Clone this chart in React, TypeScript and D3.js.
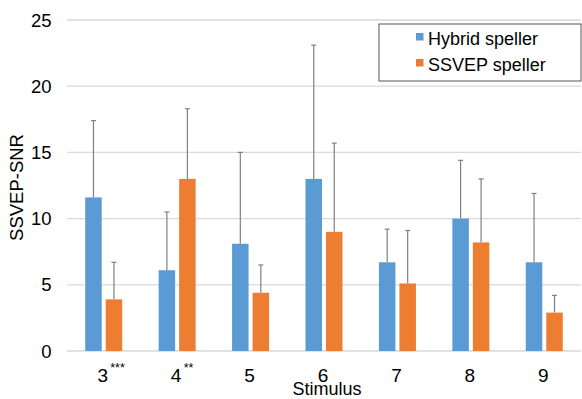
import React from "react";
import * as d3 from "d3";

const categories = ["3", "4", "5", "6", "7", "8", "9"];
const marks = ["***", "**", "", "", "", "", ""];
const hybridMean = [11.6, 6.1, 8.1, 13.0, 6.7, 10.0, 6.7];
const hybridErr = [5.8, 4.4, 6.9, 10.1, 2.5, 4.4, 5.2];
const ssvepMean = [3.9, 13.0, 4.4, 9.0, 5.1, 8.2, 2.9];
const ssvepErr = [2.8, 5.3, 2.1, 6.7, 4.0, 4.8, 1.3];
const yTicks = [0, 5, 10, 15, 20, 25];
const seriesNames = ["Hybrid speller", "SSVEP speller"];
const colors = ["#5B9BD5", "#ED7D31"];

const W = 582, H = 399;
const left = 67, right = 581, top = 20, bottom = 351;
const FONT = "'Liberation Sans', Arial, sans-serif";

export default function App() {
  const x = d3.scaleBand<string>().domain(categories).range([left, right]).padding(0);
  const y = d3.scaleLinear().domain([0, 25]).range([bottom, top]);
  const bw = x.bandwidth();
  const barW = 16.5;
  const gap = 4;
  const series = [
    { mean: hybridMean, err: hybridErr },
    { mean: ssvepMean, err: ssvepErr },
  ];
  return (
    <svg width={W} height={H} style={{ position: "absolute", left: 0, top: 0, background: "#fff" }} fontFamily={FONT}>
      {yTicks.map((t) => (
        <g key={t}>
          <line x1={left} x2={right} y1={y(t)} y2={y(t)} stroke="#d9d9d9" strokeWidth={1.3} />
          <text x={51.5} y={y(t)} dy="0.36em" textAnchor="end" fontSize={18.5} fill="#000">{t}</text>
        </g>
      ))}
      {series.map((s, si) =>
        categories.map((c, i) => {
          const cx = (x(c) as number) + bw / 2;
          const bx = si === 0 ? cx - gap / 2 - barW : cx + gap / 2;
          const mid = bx + barW / 2;
          const yTop = y(s.mean[i]);
          const yErr = y(s.mean[i] + s.err[i]);
          return (
            <g key={`${si}-${c}`}>
              <line x1={mid} x2={mid} y1={yTop} y2={yErr} stroke="#808080" strokeWidth={1.2} />
              <line x1={mid - 2.5} x2={mid + 2.5} y1={yErr} y2={yErr} stroke="#808080" strokeWidth={1.2} />
              <rect x={bx} y={yTop} width={barW} height={bottom - yTop} fill={colors[si]} />
            </g>
          );
        })
      )}
      {categories.map((c, i) => {
        const cx = (x(c) as number) + bw / 2;
        return (
          <g key={c}>
            <text x={cx - 1} y={382} textAnchor="middle" fontSize={19} fill="#000">{c}</text>
            {marks[i] && (
              <text x={cx + 6.5} y={372} fontSize={12.5} fill="#000">{marks[i]}</text>
            )}
          </g>
        );
      })}
      <text x={327} y={395} textAnchor="middle" fontSize={18} fill="#000">Stimulus</text>
      <text transform={`translate(23,${(top + bottom) / 2 + 2}) rotate(-90)`} textAnchor="middle" fontSize={18.5} fill="#000">SSVEP-SNR</text>
      <g>
        <rect x={379} y={24} width={202} height={57} fill="#fff" stroke="#555" strokeWidth={1} />
        {seriesNames.map((n, i) => (
          <g key={n}>
            <rect x={416} y={33 + i * 26} width={7.5} height={7.5} fill={colors[i]} />
            <text x={428} y={45 + i * 26} fontSize={18} fill="#000">{n}</text>
          </g>
        ))}
      </g>
    </svg>
  );
}
